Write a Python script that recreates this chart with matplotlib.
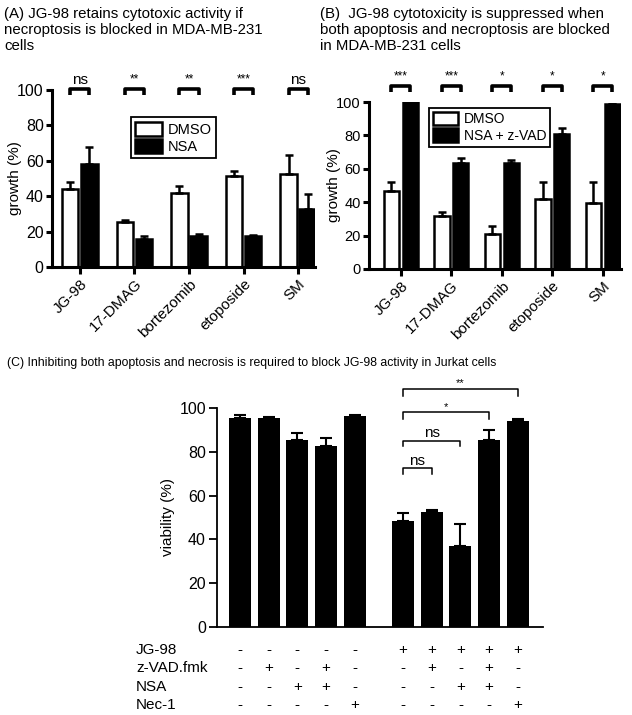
import numpy as np
import matplotlib
matplotlib.use('Agg')
import matplotlib.pyplot as plt
import matplotlib.transforms as mtransforms

plt.rcParams['font.family'] = ['Liberation Sans', 'DejaVu Sans']
plt.rcParams['font.size'] = 10

W, H = 632, 715

# panel A / B data
drugs = ['JG-98', '17-DMAG', 'bortezomib', 'etoposide', 'SM']
a_dmso = [44, 25.5, 42, 51.5, 52.5]
a_dmso_err = [4, 1, 4, 2.5, 10.5]
a_nsa = [58, 16, 17.5, 17.5, 33]
a_nsa_err = [10, 1.5, 1, 0.3, 8]
a_sig = ['ns', '**', '**', '***', 'ns']

b_dmso = [47, 31.5, 21, 42, 39.5]
b_dmso_err = [5, 2.5, 4.5, 10, 12.5]
b_nz = [100, 63.5, 63.5, 81, 99]
b_nz_err = [0, 3, 1.5, 3.5, 0]
b_sig = ['***', '***', '*', '*', '*']

# panel C data
c_pos = [0, 1, 2, 3, 4, 5.69, 6.69, 7.69, 8.69, 9.69]
c_vals = [95.5, 95.5, 85.5, 82.5, 96.5, 48.5, 52.5, 37, 85.5, 94]
c_err = [1.5, 0.5, 3, 4, 0.3, 3.5, 1, 10, 4.5, 1]
c_rows = ['JG-98', 'z-VAD.fmk', 'NSA', 'Nec-1']
c_table = [
    ['-', '-', '-', '-', '-', '+', '+', '+', '+', '+'],
    ['-', '+', '-', '+', '-', '-', '+', '-', '+', '-'],
    ['-', '-', '+', '+', '-', '-', '-', '+', '+', '-'],
    ['-', '-', '-', '-', '+', '-', '-', '-', '-', '+'],
]
# (start bar, end bar, bracket height, drop, label)
c_brackets = [(5, 6, 72.5, 2.5, 'ns'), (5, 7, 85, 2.5, 'ns'),
              (5, 8, 98, 3, '*'), (5, 9, 108.7, 3, '**')]


def px_axes(fig, left, right, y0, y100):
    return fig.add_axes([left / W, 1 - y0 / H, (right - left) / W, (y0 - y100) / H])


def style_axes(ax, lw, tick_fs):
    for s in ['top', 'right']:
        ax.spines[s].set_visible(False)
    for s in ['left', 'bottom']:
        ax.spines[s].set_linewidth(lw)
    ax.tick_params(width=lw, length=4, labelsize=tick_fs, pad=2)


def grouped(ax, white, werr, black, berr, sig, sig_y, drop, text_y, off,
            legend_labels, leg_anchor, leg_fs, tick_fs):
    x = np.arange(len(drugs))
    ax.bar(x - off, white, 0.3, color='white', edgecolor='black', linewidth=1.8,
           label=legend_labels[0], zorder=2)
    ax.bar(x + off, black, 0.3, color='black', edgecolor='black', linewidth=1.8,
           label=legend_labels[1], zorder=2)
    ax.errorbar(x - off, white, yerr=[np.zeros(5), werr], fmt='none', ecolor='black',
                elinewidth=1.8, capsize=3, capthick=1.8, zorder=3)
    ax.errorbar(x + off, black, yerr=[np.zeros(5), berr], fmt='none', ecolor='black',
                elinewidth=1.8, capsize=3, capthick=1.8, zorder=3)
    for i, s in enumerate(sig):
        ax.plot([i - off, i - off, i + off, i + off],
                [sig_y - drop, sig_y, sig_y, sig_y - drop],
                color='black', lw=2.6, clip_on=False, solid_capstyle='butt')
        fs = 11 if s == 'ns' else 8.5
        ax.text(i, text_y, s, ha='center', va='center', fontsize=fs)
    ax.set_ylim(0, 100)
    ax.set_yticks(range(0, 101, 20))
    ax.set_xticks(x)
    ax.set_xticklabels(drugs, rotation=45, ha='right', va='top', rotation_mode='anchor',
                       fontsize=11)
    ax.set_ylabel('growth (%)', fontsize=11)
    style_axes(ax, 2.2, tick_fs)
    ax.tick_params(axis='x', length=5, labelsize=11)
    leg = ax.legend(loc='upper left', bbox_to_anchor=leg_anchor, fancybox=False,
                    edgecolor='black', framealpha=1, fontsize=leg_fs, handlelength=1.8,
                    handleheight=1.1, borderpad=0.3, labelspacing=0.15,
                    handletextpad=0.4, borderaxespad=0)
    leg.get_frame().set_linewidth(1.3)


fig = plt.figure(figsize=(W / 100, H / 100), dpi=100)

axA = px_axes(fig, 52, 315, 267, 90)
grouped(axA, a_dmso, a_dmso_err, a_nsa, a_nsa_err, a_sig, 100.5, 3.5, 105.8, 0.175,
        ['DMSO', 'NSA'], (0.30, 0.845), 10.5, 11.5)
axA.set_xlim(-0.51, 4.31)
axA.yaxis.set_label_coords((22 - 52) / 263, 0.5)

axB = px_axes(fig, 369, 621, 269, 102)
grouped(axB, b_dmso, b_dmso_err, b_nz, b_nz_err, b_sig, 109.6, 3.5, 115.5, 0.185,
        ['DMSO', 'NSA + z-VAD'], (0.238, 0.965), 10, 10.5)
axB.set_xlim(-0.63, 4.36)
axB.yaxis.set_label_coords((341 - 369) / 252, 0.5)

fig.text(4 / W, 1 - 7 / H, '(A) JG-98 retains cytotoxic activity if\nnecroptosis is blocked in MDA-MB-231\ncells',
         ha='left', va='top', fontsize=10.8, linespacing=1.2)
fig.text(320 / W, 1 - 7 / H, '(B)  JG-98 cytotoxicity is suppressed when\nboth apoptosis and necroptosis are blocked\nin MDA-MB-231 cells',
         ha='left', va='top', fontsize=10.8, linespacing=1.2)
fig.text(7 / W, 1 - 363 / H,
         '(C) Inhibiting both apoptosis and necrosis is required to block JG-98 activity in Jurkat cells',
         ha='left', va='center', fontsize=8.8)

# panel C
axC = px_axes(fig, 217, 543, 627, 408)
axC.bar(c_pos, c_vals, 0.77, color='black', zorder=2)
axC.errorbar(c_pos, c_vals, yerr=[np.zeros(len(c_err)), c_err], fmt='none', ecolor='black',
             elinewidth=1.5, capsize=4, capthick=1.5, zorder=3)
axC.set_xlim(-0.8, 10.57)
axC.set_ylim(0, 100)
axC.set_yticks(range(0, 101, 20))
axC.set_xticks([])
axC.set_ylabel('viability (%)', fontsize=11)
style_axes(axC, 1.3, 11.5)
axC.tick_params(axis='y', length=6)
axC.yaxis.set_label_coords((175 - 217) / 326, 0.5)
for i, j, h, d, lab in c_brackets:
    axC.plot([c_pos[i], c_pos[i], c_pos[j], c_pos[j]], [h - d, h, h, h - d],
             color='black', lw=1.1, clip_on=False)
    fs = 11 if lab == 'ns' else 8
    axC.text((c_pos[i] + c_pos[j]) / 2, h + (3.5 if lab == 'ns' else 2.5), lab,
             ha='center', va='center', fontsize=fs)

trans = mtransforms.blended_transform_factory(axC.transData, fig.transFigure)
row_y = [650, 668, 687, 705]
for r, name in enumerate(c_rows):
    fig.text(136 / W, 1 - row_y[r] / H, name, ha='left', va='center', fontsize=11)
    for k, sym in enumerate(c_table[r]):
        axC.text(c_pos[k], 1 - row_y[r] / H, sym, transform=trans, ha='center',
                 va='center', fontsize=11)

fig.savefig('out.png', dpi=100)
